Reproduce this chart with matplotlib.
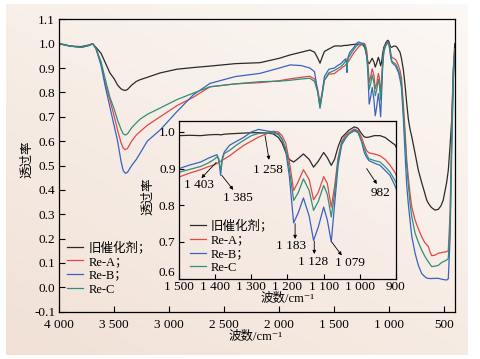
import numpy as np
import matplotlib
matplotlib.use("Agg")
import matplotlib.pyplot as plt

plt.rcParams['font.family'] = ['Liberation Serif', 'Noto Sans CJK SC', 'DejaVu Sans']

# ---------------- data ----------------
wavenumber = [
    4000, 3900, 3800, 3727, 3697, 3667, 3620, 3580, 3540, 3500,
    3470, 3440, 3420, 3400, 3380, 3342, 3300, 3266, 3200, 3083,
    2933, 2782, 2630, 2400, 2176, 2000, 1900, 1800, 1722, 1680,
    1650, 1630, 1610, 1590, 1550, 1500, 1470, 1440, 1420, 1403,
    1395, 1390, 1385, 1380, 1375, 1360, 1340, 1320, 1300, 1280,
    1258, 1240, 1225, 1215, 1205, 1195, 1183, 1170, 1156, 1140,
    1128, 1115, 1100, 1090, 1079, 1070, 1060, 1050, 1040, 1030,
    1015, 1005, 995, 988, 982, 975, 960, 944, 930, 917,
    903, 890, 872, 857, 842, 827, 812, 796, 766, 736,
    706, 680, 660, 645, 630, 615, 585, 555, 530, 510,
    479, 464, 448, 433, 418, 405,
]
old_catalyst = [
    1.0, 0.99, 0.988, 0.995, 1.0, 0.985, 0.96, 0.92, 0.88, 0.855,
    0.83, 0.815, 0.81, 0.808, 0.812, 0.83, 0.845, 0.852, 0.862, 0.88,
    0.895, 0.902, 0.908, 0.918, 0.922, 0.94, 0.954, 0.965, 0.974, 0.965,
    0.94, 0.92, 0.945, 0.968, 0.978, 0.99, 0.991, 0.99, 0.992, 0.993,
    0.993, 0.993, 0.992, 0.993, 0.994, 0.995, 0.996, 0.997, 0.998, 0.998,
    0.997, 0.995, 0.985, 0.97, 0.945, 0.925, 0.918, 0.928, 0.94, 0.925,
    0.904, 0.92, 0.944, 0.93, 0.909, 0.925, 0.96, 0.985, 0.995, 1.005,
    1.014, 1.01, 0.995, 0.987, 0.985, 0.986, 0.99, 0.99, 0.985, 0.975,
    0.965, 0.94, 0.892, 0.83, 0.755, 0.69, 0.65, 0.618, 0.55, 0.48,
    0.43, 0.39, 0.358, 0.345, 0.335, 0.327, 0.317, 0.32, 0.335, 0.358,
    0.43, 0.48, 0.58, 0.687, 0.892, 1.0,
]
re_a = [
    1.0, 0.99, 0.985, 0.993, 1.0, 0.98, 0.92, 0.83, 0.77, 0.70,
    0.645, 0.595, 0.572, 0.565, 0.57, 0.60, 0.625, 0.639, 0.665, 0.70,
    0.745, 0.78, 0.823, 0.835, 0.84, 0.848, 0.856, 0.862, 0.866, 0.855,
    0.81, 0.756, 0.80, 0.85, 0.875, 0.877, 0.888, 0.897, 0.905, 0.91,
    0.914, 0.917, 0.92, 0.923, 0.926, 0.935, 0.95, 0.964, 0.975, 0.986,
    0.995, 1.002, 1.0, 0.99, 0.97, 0.92, 0.84, 0.865, 0.897, 0.87,
    0.815, 0.835, 0.878, 0.86, 0.795, 0.85, 0.93, 0.975, 0.99, 0.998,
    1.008, 1.003, 0.985, 0.965, 0.95, 0.943, 0.94, 0.935, 0.925, 0.91,
    0.89, 0.86, 0.75, 0.64, 0.523, 0.45, 0.386, 0.33, 0.276, 0.24,
    0.208, 0.185, 0.175, 0.167, 0.145, 0.13, 0.132, 0.14, 0.142, 0.144,
    0.146, 0.15, 0.3, 0.65, 0.9, 0.98,
]
re_b = [
    1.0, 0.99, 0.985, 0.993, 1.0, 0.98, 0.91, 0.82, 0.74, 0.66,
    0.60, 0.52, 0.48, 0.468, 0.472, 0.50, 0.525, 0.55, 0.60, 0.646,
    0.72, 0.79, 0.837, 0.865, 0.878, 0.90, 0.913, 0.91, 0.90, 0.885,
    0.80, 0.735, 0.80, 0.865, 0.895, 0.90, 0.91, 0.918, 0.928, 0.935,
    0.938, 0.925, 0.882, 0.93, 0.945, 0.964, 0.975, 0.986, 1.0, 1.007,
    1.003, 1.0, 0.995, 0.98, 0.95, 0.88, 0.752, 0.78, 0.82, 0.77,
    0.704, 0.74, 0.795, 0.76, 0.70, 0.80, 0.91, 0.965, 0.982, 0.995,
    1.006, 1.0, 0.973, 0.945, 0.932, 0.922, 0.915, 0.909, 0.895, 0.882,
    0.854, 0.82, 0.69, 0.55, 0.42, 0.34, 0.276, 0.21, 0.14, 0.09,
    0.057, 0.045, 0.038, 0.037, 0.036, 0.036, 0.037, 0.037, 0.034, 0.032,
    0.03, 0.035, 0.2, 0.55, 0.85, 0.95,
]
re_c = [
    1.0, 0.99, 0.985, 0.993, 1.0, 0.98, 0.925, 0.85, 0.78, 0.73,
    0.685, 0.65, 0.63, 0.625, 0.63, 0.655, 0.675, 0.69, 0.71, 0.736,
    0.77, 0.797, 0.823, 0.835, 0.844, 0.846, 0.85, 0.855, 0.858, 0.845,
    0.80, 0.74, 0.79, 0.85, 0.88, 0.89, 0.898, 0.906, 0.915, 0.925,
    0.932, 0.925, 0.895, 0.925, 0.941, 0.95, 0.965, 0.978, 0.99, 0.996,
    0.998, 0.997, 0.993, 0.98, 0.955, 0.9, 0.813, 0.835, 0.872, 0.84,
    0.786, 0.81, 0.854, 0.83, 0.768, 0.83, 0.925, 0.97, 0.985, 0.995,
    1.003, 0.998, 0.975, 0.955, 0.94, 0.927, 0.922, 0.918, 0.905, 0.891,
    0.868, 0.84, 0.72, 0.618, 0.50, 0.42, 0.345, 0.29, 0.222, 0.185,
    0.153, 0.13, 0.115, 0.105, 0.095, 0.085, 0.087, 0.09, 0.1, 0.105,
    0.112, 0.118, 0.25, 0.6, 0.88, 0.97,
]

series_labels = ['旧催化剂；', 'Re-A；', 'Re-B；', 'Re-C']
series_colors = ['#2a2a2a', '#e04848', '#3a62c0', '#2f8f7a']

main_xticks = [4000, 3500, 3000, 2500, 2000, 1500, 1000, 500]
main_xticklabels = ['4 000', '3 500', '3 000', '2 500', '2 000', '1 500', '1 000', '500']
main_yticks = [-0.1, 0.0, 0.1, 0.2, 0.3, 0.4, 0.5, 0.6, 0.7, 0.8, 0.9, 1.0, 1.1]
inset_xticks = [1500, 1400, 1300, 1200, 1100, 1000, 900]
inset_xticklabels = ['1 500', '1 400', '1 300', '1 200', '1 100', '1 000', '900']
inset_yticks = [0.6, 0.7, 0.8, 0.9, 1.0]

# annotations: label, label position, arrow tail, arrow head
peak_notes = [
    ('1 403', (1444, 0.856), (1397, 0.917), (1438, 0.874)),
    ('1 385', (1337, 0.819), (1382, 0.882), (1350, 0.842)),
    ('1 258', (1253, 0.895), (1262, 0.99), (1251, 0.924)),
    ('1 183', (1191, 0.690), (1179, 0.750), (1179, 0.708)),
    ('1 128', (1128, 0.645), (1126, 0.702), (1126, 0.667)),
    ('1 079', (1027, 0.642), (1078, 0.700), (1050, 0.663)),
    ('982', (944, 0.833), (981, 0.900), (953, 0.858)),
]

series = [old_catalyst, re_a, re_b, re_c]

# ---------------- figure ----------------
W, H = 480, 359
fig = plt.figure(figsize=(W / 100, H / 100), dpi=100, facecolor='white')

# beige gradient background panel
bg = fig.add_axes([6 / W, 4 / H, 462 / W, 351 / H], zorder=-10)
tl = np.array([247, 239, 232]) / 255
tr = np.array([252, 248, 245]) / 255
bl = np.array([241, 225, 215]) / 255
br = np.array([246, 235, 227]) / 255
u = np.linspace(0, 1, 64)[None, :, None]
v = np.linspace(0, 1, 64)[:, None, None]
grad = (1 - v) * ((1 - u) * tl + u * tr) + v * ((1 - u) * bl + u * br)
bg.imshow(grad, aspect='auto', extent=[0, 1, 0, 1], interpolation='bilinear')
bg.axis('off')

fs = 9
fn = 9.5

ax = fig.add_axes([59.3 / W, 1 - 311.7 / H, (455 - 59.3) / W, (311.7 - 19.3) / H])
ax.set_facecolor('none')
for i in range(4):
    ax.plot(wavenumber, series[i], color=series_colors[i], lw=0.9, label=series_labels[i])
ax.set_xlim(4000, 403)
ax.set_ylim(-0.1, 1.1)
ax.set_xticks(main_xticks)
ax.set_xticklabels(main_xticklabels)
ax.set_yticks(main_yticks)
ax.set_yticklabels([f'{t:.1f}' for t in main_yticks])
ax.tick_params(direction='in', length=4, width=0.8, labelsize=fn, top=False, right=False)
ax.tick_params(axis='x', pad=5)
ax.tick_params(axis='y', pad=3)
for s in ax.spines.values():
    s.set_linewidth(0.9)
ax.text(-0.082, 0.52, '透过率', transform=ax.transAxes, rotation=90,
        ha='center', va='center', fontsize=fs)
ax.text(0.497, -0.087, '波数/cm⁻¹', transform=ax.transAxes,
        ha='center', va='center', fontsize=fs)
ax.legend(loc='lower left', bbox_to_anchor=(0.02, 0.055), frameon=False,
          fontsize=fs, handlelength=1.3, handletextpad=0.4,
          labelspacing=0.15, borderpad=0, borderaxespad=0)

# ---------------- inset ----------------
ins = fig.add_axes([179 / W, 1 - 278.5 / H, (396 - 179) / W, (278.5 - 121) / H])
ins.set_facecolor('none')
for i in range(4):
    ins.plot(wavenumber, series[i], color=series_colors[i], lw=0.9, label=series_labels[i])
ins.set_xlim(1500, 900)
ins.set_ylim(0.6, 1.03)
ins.set_xticks(inset_xticks)
ins.set_xticklabels(inset_xticklabels)
ins.set_yticks(inset_yticks)
ins.set_yticklabels([f'{t:.1f}' for t in inset_yticks])
ins.tick_params(direction='in', length=3.5, width=0.8, labelsize=fn, top=False, right=False)
ins.tick_params(axis='x', pad=1.5)
ins.tick_params(axis='y', pad=2.5)
ins.get_yticklabels()[0].set_verticalalignment('bottom')
for s in ins.spines.values():
    s.set_linewidth(0.9)
ins.text(-0.143, 0.52, '透过率', transform=ins.transAxes, rotation=90,
         ha='center', va='center', fontsize=fs)
ins.text(0.502, -0.128, '波数/cm⁻¹', transform=ins.transAxes,
         ha='center', va='center', fontsize=fs)
ins.legend(loc='lower left', bbox_to_anchor=(0.05, 0.03), frameon=False,
           fontsize=fs, handlelength=1.3, handletextpad=0.4,
           labelspacing=0.15, borderpad=0, borderaxespad=0)

for label, lpos, tail, head in peak_notes:
    ins.text(lpos[0], lpos[1], label, ha='center', va='center', fontsize=fn)
    ins.annotate('', xy=head, xytext=tail,
                 arrowprops=dict(arrowstyle='-|>', lw=0.6, color='black',
                                 mutation_scale=5, shrinkA=0, shrinkB=0))

fig.savefig('out.png', dpi=100, facecolor='white')
